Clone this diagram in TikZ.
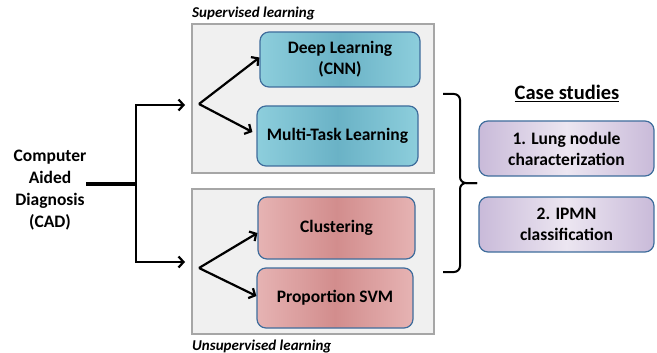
\documentclass[tikz,border=0pt]{standalone}
\usepackage{fontspec}
\setmainfont{Carlito}
\usepackage{tikz}
\usetikzlibrary{arrows,arrows.meta}

\definecolor{boxblue}{HTML}{3F6D9C}
\definecolor{panelgray}{HTML}{A6A6A6}
\definecolor{tealedge}{HTML}{8DCEDC}
\definecolor{tealmid}{HTML}{6AB2C6}
\definecolor{rededge}{HTML}{E6B3B3}
\definecolor{redmid}{HTML}{D28D8D}
\definecolor{lilacedge}{HTML}{C9BAD9}
\definecolor{lilacmid}{HTML}{ECE6F1}

\tikzset{
  panel/.style={draw=panelgray, fill=black!6, line width=1.2pt},
  method/.style={draw=boxblue, line width=1.2pt, rounded corners=9pt,
    inner sep=0pt, align=center, font=\fontsize{17.5}{21}\selectfont\bfseries},
  sup/.style={method, left color=tealedge, right color=tealedge, middle color=tealmid},
  unsup/.style={method, left color=rededge, right color=rededge, middle color=redmid},
  study/.style={method, left color=lilacedge, right color=lilacedge, middle color=lilacmid},
  arr/.style={-{Straight Barb[length=5pt, width=11pt]}, line width=2.2pt},
  tag/.style={font=\fontsize{15}{17}\selectfont\bfseries\itshape, inner sep=0pt},
}

\begin{document}
\begin{tikzpicture}[x=1pt, y=-1pt]
        \useasboundingbox (0,0) rectangle (657,353);

        % the two groups
        \node[panel, minimum width=242pt, minimum height=149pt] (SUP) at (313,98.5) {};
        \node[tag, anchor=base west] (SL) at (192,18) {Supervised learning};
        \node[panel, minimum width=242pt, minimum height=145pt] (UNS) at (313,261.5) {};
        \node[tag, anchor=base west] (UL) at (192,350) {Unsupervised learning};

        \node[sup, minimum width=160pt, minimum height=55pt] (DL) at (340,59.5)
             {Deep Learning\\(CNN)};
        \node[sup, minimum width=161pt, minimum height=60pt] (MTL) at (337.5,136)
             {Multi-Task Learning};
        \node[unsup, minimum width=157pt, minimum height=62pt] (CL) at (336.5,228)
             {Clustering};
        \node[unsup, minimum width=156pt, minimum height=60pt] (SVM) at (335,298)
             {Proportion SVM};

        % case studies
        \node[font=\fontsize{20.5}{24}\selectfont\bfseries, anchor=base] (CS) at (567,100)
             {\underline{Case studies}};
        \node[study, minimum width=175pt, minimum height=55pt] (LN) at (566.5,148.5)
             {1. Lung nodule\\characterization};
        \node[study, minimum width=175pt, minimum height=55pt] (IP) at (566.5,224.5)
             {2. IPMN\\classification};

        \node[font=\fontsize{17.5}{22}\selectfont\bfseries, align=center] (CAD) at (50,190)
             {Computer\\Aided\\Diagnosis\\(CAD)};

        \coordinate (J) at (136,184);
        \coordinate (AS) at (185,105);
        \coordinate (AU) at (185,262);
        \coordinate (FS) at (199,104);
        \coordinate (FU) at (199,268);

        \draw[line width=3.2pt] (86,184) -- (J);
        \draw[arr] (J) |- (AS);
        \draw[arr] (J) |- (AU);

        \draw[arr] (FS) -- ([yshift=2pt]DL.west);
        \draw[arr] (FS) -- ([xshift=-4pt, yshift=4pt]MTL.west);
        \draw[arr] (FU) -- ([yshift=-5pt]CL.west);
        \draw[arr] (FU) -- ([yshift=2pt]SVM.west);

        % bracket
        \draw[line width=2pt, rounded corners=6pt] (443,94) -- (460,94) -- (460,183) -- (477,183);
        \draw[line width=2pt, rounded corners=6pt] (443,272) -- (460,272) -- (460,183) -- (477,183);
      \end{tikzpicture}
\end{document}
